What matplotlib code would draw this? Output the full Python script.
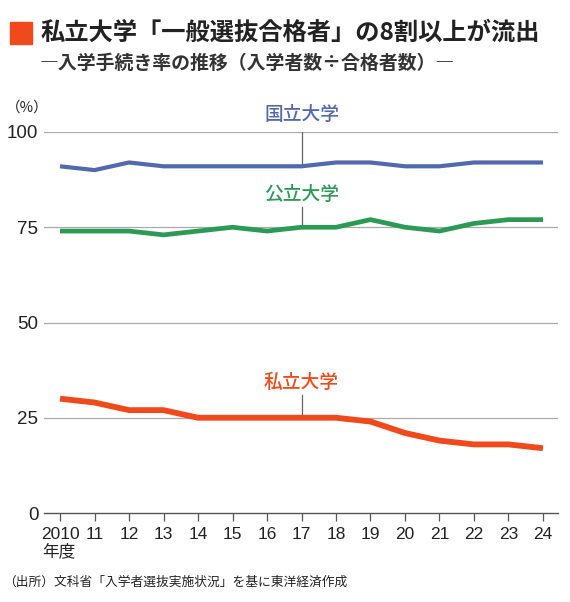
import matplotlib
matplotlib.use('Agg')
import matplotlib.pyplot as plt
from matplotlib.patches import Rectangle

plt.rcParams['font.family'] = ['Noto Sans CJK JP', 'DejaVu Sans']

# --- data ---
years = list(range(2010, 2025))
year_labels = ['2010'] + [str(y % 100) for y in years[1:]]
national = [91, 90, 92, 91, 91, 91, 91, 91, 92, 92, 91, 91, 92, 92, 92]
public = [74, 74, 74, 73, 74, 75, 74, 75, 75, 77, 75, 74, 76, 77, 77]
private = [30, 29, 27, 27, 25, 25, 25, 25, 25, 24, 21, 19, 18, 18, 17]

series_names = ['国立大学', '公立大学', '私立大学']
colors = ['#5169ae', '#2b9a55', '#f04a1c']
widths = [3.0, 3.4, 4.2]
label_y = [104.5, 83.5, 34.2]
label_year = 2017

title = '私立大学「一般選抜合格者」の8割以上が流出'
subtitle = '―入学手続き率の推移（入学者数÷合格者数）―'
source = '（出所）文科省「入学者選抜実施状況」を基に東洋経済作成'

num_font = ['Liberation Sans', 'DejaVu Sans']

fig = plt.figure(figsize=(5.70, 6.02), dpi=100)
ax = fig.add_axes([44 / 570, 89 / 602, 514 / 570, 381 / 602])

for vals, c, lw in zip([national, public, private], colors, widths):
    ax.plot(years, vals, color=c, lw=lw, solid_joinstyle='round',
            solid_capstyle='butt', zorder=3)

# series labels with leader lines
for name, vals, c, ly in zip(series_names, [national, public, private], colors, label_y):
    v = vals[years.index(label_year)]
    ax.text(label_year, ly, name, color=c, fontsize=13.5, fontweight='medium',
            ha='center', va='center', zorder=4)
    ax.plot([label_year, label_year], [ly - 3.3, v], color='#666666',
            lw=0.9, zorder=2)

ax.set_xlim(2009.536, 2024.435)
ax.set_ylim(0, 100)
ax.set_yticks([0, 25, 50, 75, 100])
ax.set_yticklabels(['0', '25', '50', '75', '100'], fontfamily=num_font)
ax.set_xticks(years)
ax.set_xticklabels(year_labels, fontfamily=num_font)
ax.tick_params(axis='y', length=0, labelsize=13.5, pad=4, labelcolor='#222222')
ax.tick_params(axis='x', length=6, width=0.9, color='#555555', labelsize=12.5,
               pad=4, labelcolor='#222222')
for yv in [25, 50, 75, 100]:
    ax.axhline(yv, color='#aaaaaa', lw=0.9, zorder=1)
for s in ['top', 'right', 'left']:
    ax.spines[s].set_visible(False)
ax.spines['bottom'].set_color('#555555')
ax.spines['bottom'].set_linewidth(1.0)

fig.text(6 / 570, 1 - 108 / 602, '（%）', ha='left', va='center',
         fontsize=10.5, color='#222222')

# headings
fig.patches.append(Rectangle((10 / 570, 1 - 44 / 602), 22 / 570, 22 / 602,
                             transform=fig.transFigure, color='#f04a1c'))
fig.text(40 / 570, 1 - 33 / 602, title, fontsize=17.5, fontweight='bold',
         va='center', ha='left', color='#222222')
fig.text(40 / 570, 1 - 63 / 602, subtitle, fontsize=13.6, fontweight='bold',
         va='center', ha='left', color='#333333')
fig.text(42 / 570, 1 - 552 / 602, '年度', fontsize=12, va='center',
         ha='left', color='#222222')
fig.text(3 / 570, 1 - 582 / 602, source, fontsize=9.2, va='center',
         ha='left', color='#222222')

fig.savefig('out.png', dpi=100)
